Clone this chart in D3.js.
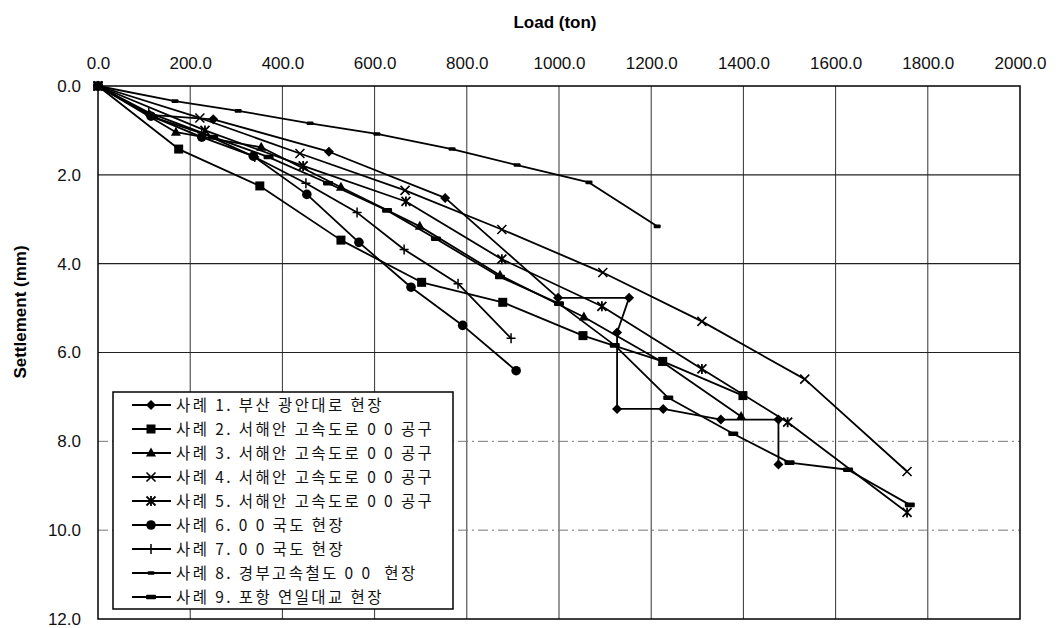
<!DOCTYPE html>
<html>
<head>
<meta charset="utf-8">
<script src="https://cdn.jsdelivr.net/npm/d3@7"></script>
<style>
  body { margin: 0; background: #fff; }
  text { font-family: "Liberation Sans", Arial, sans-serif; }
  .leg text { font-family: "Noto Sans CJK KR", sans-serif; }
</style>
</head>
<body>
<div id="chart"></div>
<script>
// load (ton), settlement (mm)
var case1 = [[0,0],[112,0.65],[250,0.75],[501,1.48],[753,2.52],[998,4.77],[1152,4.77],[1126,5.55],[1126,7.27],[1226,7.27],[1351,7.51],[1476,7.51],[1476,8.52]];
var case2 = [[0,0],[175,1.42],[351,2.25],[527,3.47],[702,4.42],[878,4.87],[1052,5.62],[1225,6.2],[1399,6.97]];
var case3 = [[0,0],[169,1.04],[354,1.38],[527,2.28],[698,3.16],[872,4.26],[1054,5.2],[1225,6.22],[1395,7.44]];
var case4 = [[0,0],[221,0.72],[438,1.52],[666,2.35],[876,3.23],[1095,4.2],[1310,5.3],[1533,6.6],[1755,8.68]];
var case5 = [[0,0],[232,1.0],[445,1.8],[668,2.6],[876,3.9],[1093,4.96],[1310,6.37],[1496,7.57],[1755,9.6]];
var case6 = [[0,0],[115,0.68],[225,1.15],[337,1.58],[453,2.44],[566,3.52],[679,4.53],[791,5.39],[907,6.41]];
var case7 = [[0,0],[110,0.6],[225,1.05],[340,1.6],[451,2.19],[562,2.85],[664,3.68],[781,4.45],[896,5.68]];
var case8 = [[0,0],[167,0.34],[304,0.56],[460,0.84],[605,1.08],[768,1.42],[909,1.78],[1065,2.17],[1213,3.16]];
var case9 = [[0,0],[120,0.7],[250,1.15],[370,1.6],[499,2.19],[627,2.8],[733,3.44],[872,4.3],[1000,4.9],[1121,5.84],[1237,7.02],[1378,7.83],[1500,8.48],[1627,8.64],[1761,9.43]];

var legendLabels = [
  "사례 1. 부산 광안대로 현장",
  "사례 2. 서해안 고속도로 0 0 공구",
  "사례 3. 서해안 고속도로 0 0 공구",
  "사례 4. 서해안 고속도로 0 0 공구",
  "사례 5. 서해안 고속도로 0 0 공구",
  "사례 6. 0 0 국도 현장",
  "사례 7. 0 0 국도 현장",
  "사례 8. 경부고속철도 0 0  현장",
  "사례 9. 포항 연일대교 현장"
];
var markerTypes = ["diamond", "square", "triangle", "x", "asterisk", "circle", "plus", "dash", "bar"];
var xTicks = [0, 200, 400, 600, 800, 1000, 1200, 1400, 1600, 1800, 2000];
var yTicks = [0, 2, 4, 6, 8, 10, 12];

var allCases = [case1, case2, case3, case4, case5, case6, case7, case8, case9];

var width = 1058, height = 628;
var margin = {top: 86, right: 38, bottom: 9, left: 98};

var svg = d3.select("#chart").append("svg")
  .attr("width", width)
  .attr("height", height);

var x = d3.scaleLinear().domain([0, 2000]).range([margin.left, width - margin.right]);
var y = d3.scaleLinear().domain([0, 12]).range([margin.top, height - margin.bottom]);

// grid
svg.append("g").selectAll("line.vgrid")
  .data(xTicks.slice(1, -1))
  .enter().append("line")
  .attr("x1", d => x(d)).attr("x2", d => x(d))
  .attr("y1", y(0)).attr("y2", y(12))
  .style("stroke", "#333").style("stroke-width", 1);

svg.append("g").selectAll("line.hgrid")
  .data(yTicks.slice(1, -1))
  .enter().append("line")
  .attr("x1", x(0)).attr("x2", x(2000))
  .attr("y1", d => y(d)).attr("y2", d => y(d))
  .style("stroke", d => d >= 8 ? "#777" : "#222")
  .style("stroke-width", d => d >= 8 ? 1 : 1.2)
  .style("stroke-dasharray", d => d >= 8 ? "10,4,2,4" : null);

// axes
var xAxis = d3.axisTop(x).tickValues(xTicks).tickSize(0).tickPadding(17)
  .tickFormat(d3.format(".1f"));
var yAxis = d3.axisLeft(y).tickValues(yTicks).tickSize(0).tickPadding(17)
  .tickFormat(d3.format(".1f"));

svg.append("g").attr("transform", `translate(0,${margin.top})`).call(xAxis)
  .call(g => g.select(".domain").remove())
  .selectAll("text").style("font-size", "17px").style("font-family", "Liberation Sans, Arial").style("fill", "#111");
svg.append("g").attr("transform", `translate(${margin.left},0)`).call(yAxis)
  .call(g => g.select(".domain").remove())
  .selectAll("text").style("font-size", "17px").style("font-family", "Liberation Sans, Arial").style("fill", "#111");

svg.append("rect")
  .attr("x", x(0)).attr("y", y(0))
  .attr("width", x(2000) - x(0)).attr("height", y(12) - y(0))
  .style("fill", "none").style("stroke", "#000").style("stroke-width", 1.5);

svg.append("text")
  .attr("x", 555).attr("y", 28)
  .style("text-anchor", "middle").style("font-size", "17px").style("font-weight", "bold")
  .text("Load (ton)");

svg.append("text")
  .attr("transform", "translate(26,312) rotate(-90)")
  .style("text-anchor", "middle").style("font-size", "17px").style("font-weight", "bold")
  .text("Settlement (mm)");

// markers
function drawMarker(g, type, cx, cy) {
  if (type == "diamond") {
    g.append("path").attr("d", `M${cx},${cy-5}L${cx+5},${cy}L${cx},${cy+5}L${cx-5},${cy}Z`).style("fill", "#000");
  } else if (type == "square") {
    g.append("rect").attr("x", cx - 4.5).attr("y", cy - 4.5).attr("width", 9).attr("height", 9).style("fill", "#000");
  } else if (type == "triangle") {
    g.append("path").attr("d", `M${cx},${cy-5.5}L${cx+5},${cy+3.5}L${cx-5},${cy+3.5}Z`).style("fill", "#000");
  } else if (type == "x") {
    g.append("path").attr("d", `M${cx-4.5},${cy-4.5}L${cx+4.5},${cy+4.5}M${cx-4.5},${cy+4.5}L${cx+4.5},${cy-4.5}`)
      .style("stroke", "#000").style("stroke-width", 1.6);
  } else if (type == "asterisk") {
    g.append("path").attr("d", `M${cx-4.5},${cy-4.5}L${cx+4.5},${cy+4.5}M${cx-4.5},${cy+4.5}L${cx+4.5},${cy-4.5}M${cx},${cy-5}L${cx},${cy+5}`)
      .style("stroke", "#000").style("stroke-width", 1.8);
  } else if (type == "circle") {
    g.append("circle").attr("cx", cx).attr("cy", cy).attr("r", 4.8).style("fill", "#000");
  } else if (type == "plus") {
    g.append("path").attr("d", `M${cx-4.5},${cy}L${cx+4.5},${cy}M${cx},${cy-5}L${cx},${cy+5}`)
      .style("stroke", "#000").style("stroke-width", 1.5);
  } else if (type == "dash") {
    g.append("rect").attr("x", cx - 3.5).attr("y", cy - 1.8).attr("width", 7).attr("height", 3.6).attr("rx", 1).style("fill", "#000");
  } else if (type == "bar") {
    g.append("rect").attr("x", cx - 5).attr("y", cy - 2.3).attr("width", 10).attr("height", 4.6).attr("rx", 1).style("fill", "#000");
  }
}

var line = d3.line().x(d => x(d[0])).y(d => y(d[1]));

allCases.forEach(function (data, i) {
  var g = svg.append("g").attr("class", "series");
  g.append("path")
    .datum(data)
    .attr("d", line)
    .style("fill", "none")
    .style("stroke", "#000")
    .style("stroke-width", 1.8)
    .style("stroke-linejoin", "round");
  data.forEach(d => drawMarker(g, markerTypes[i], x(d[0]), y(d[1])));
});

// legend
var leg = svg.append("g").attr("class", "leg");
leg.append("rect")
  .attr("x", 113).attr("y", 392)
  .attr("width", 340).attr("height", 217)
  .style("fill", "#fff").style("stroke", "#000").style("stroke-width", 1.5);

legendLabels.forEach(function (label, i) {
  var ly = 405 + i * 24;
  leg.append("line")
    .attr("x1", 132).attr("x2", 171).attr("y1", ly).attr("y2", ly)
    .style("stroke", "#000").style("stroke-width", 1.8);
  drawMarker(leg, markerTypes[i], 151, ly);
  leg.append("text")
    .attr("x", 176).attr("y", ly)
    .attr("dy", "0.36em")
    .style("font-size", "15.5px")
    .style("letter-spacing", "2.4px")
    .style("white-space", "pre")
    .style("fill", "#111")
    .text(label);
});
</script>
</body>
</html>
